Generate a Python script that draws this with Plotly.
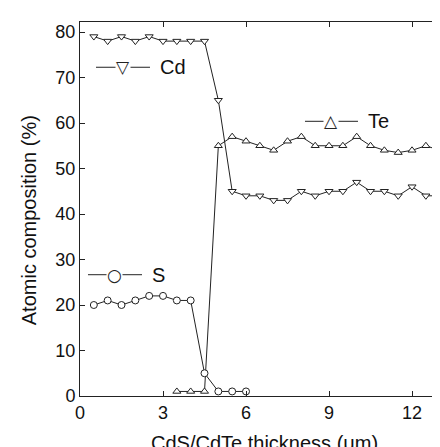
import plotly.graph_objects as go

cd_x = [0.5, 1.0, 1.5, 2.0, 2.5, 3.0, 3.5, 4.0, 4.5, 5.0, 5.5, 6.0, 6.5, 7.0, 7.5,
        8.0, 8.5, 9.0, 9.5, 10.0, 10.5, 11.0, 11.5, 12.0, 12.5, 13.0]
cd_y = [79, 78, 79, 78, 79, 78, 78, 78, 78, 65, 45, 44, 44, 43, 43,
        45, 44, 45, 45, 47, 45, 45, 44, 46, 44, 44]

te_x = [3.5, 4.0, 4.5, 5.0, 5.5, 6.0, 6.5, 7.0, 7.5, 8.0, 8.5, 9.0, 9.5, 10.0,
        10.5, 11.0, 11.5, 12.0, 12.5, 13.0]
te_y = [1, 1, 1, 55, 57, 56, 55, 54, 56, 57, 55, 55, 55, 57,
        55, 54, 53.5, 54, 55, 54]

s_x = [0.5, 1.0, 1.5, 2.0, 2.5, 3.0, 3.5, 4.0, 4.5, 5.0, 5.5, 6.0]
s_y = [20, 21, 20, 21, 22, 22, 21, 21, 5, 1, 1, 1]

x_ticks = [0, 3, 6, 9, 12]
y_ticks = [0, 10, 20, 30, 40, 50, 60, 70, 80]

FONT = "Liberation Sans"
LINE = "#222222"
TXT = "#111111"


def trace(x, y, name, symbol):
    return go.Scatter(
        x=x, y=y, name=name, mode="lines+markers", showlegend=False,
        line=dict(color=LINE, width=1),
        marker=dict(symbol=symbol, size=7, color="white",
                    line=dict(color=LINE, width=1)),
    )


fig = go.Figure()
fig.add_trace(trace(cd_x, cd_y, "Cd", "triangle-down"))
fig.add_trace(trace(te_x, te_y, "Te", "triangle-up"))
fig.add_trace(trace(s_x, s_y, "S", "circle"))

legend_keys = [
    ("Cd", "\u25bd", 0.0435, 0.1902, 0.879, 0.212),
    ("Te", "\u25b3", 0.6114, 0.7554, 0.7345, 0.7772),
    ("S", "\u25cb", 0.0217, 0.1685, 0.3243, 0.1902),
]
for label, glyph, x0, x1, yy, tx in legend_keys:
    fig.add_shape(type="line", xref="paper", yref="paper", x0=x0, x1=x1, y0=yy, y1=yy,
                  line=dict(color=LINE, width=1))
    fig.add_annotation(xref="paper", yref="paper", x=(x0 + x1) / 2, y=yy, text=glyph,
                       showarrow=False, xanchor="center", yanchor="middle",
                       font=dict(family="DejaVu Sans", size=17, color=LINE), bgcolor="white",
                       borderpad=0)
    fig.add_annotation(xref="paper", yref="paper", x=tx, y=yy, text=label,
                       showarrow=False, xanchor="left", yanchor="middle",
                       font=dict(family=FONT, size=20, color=TXT))

fig.add_annotation(xref="paper", yref="paper", x=-0.1386, y=0.47, text="Atomic composition (%)",
                   textangle=-90, showarrow=False, xanchor="center", yanchor="middle",
                   font=dict(family=FONT, size=20, color=TXT))
fig.add_annotation(xref="paper", yref="paper", x=0.5, y=-0.125, text="CdS/CdTe thickness (\u03bcm)",
                   showarrow=False, xanchor="center", yanchor="middle",
                   font=dict(family=FONT, size=20, color=TXT))

fig.update_layout(
    width=440, height=447,
    margin=dict(l=72, r=0, t=14, b=59, autoexpand=False),
    paper_bgcolor="white", plot_bgcolor="white",
    font=dict(family=FONT, color=TXT),
    showlegend=False,
    xaxis=dict(
        range=[0, 13.3], tickvals=x_ticks, ticks="inside", ticklen=5, tickwidth=1,
        tickcolor=LINE, showline=True, linecolor=LINE, linewidth=1, mirror="ticks",
        showgrid=False, zeroline=False, tickfont=dict(size=18, family=FONT, color=TXT),
    ),
    yaxis=dict(
        range=[0, 82.2], tickvals=y_ticks, ticks="inside", ticklen=5, tickwidth=1,
        tickcolor=LINE, showline=True, linecolor=LINE, linewidth=1, mirror=False,
        showgrid=False, zeroline=False, tickfont=dict(size=18, family=FONT, color=TXT),
    ),
)

fig.write_html("out.html")
